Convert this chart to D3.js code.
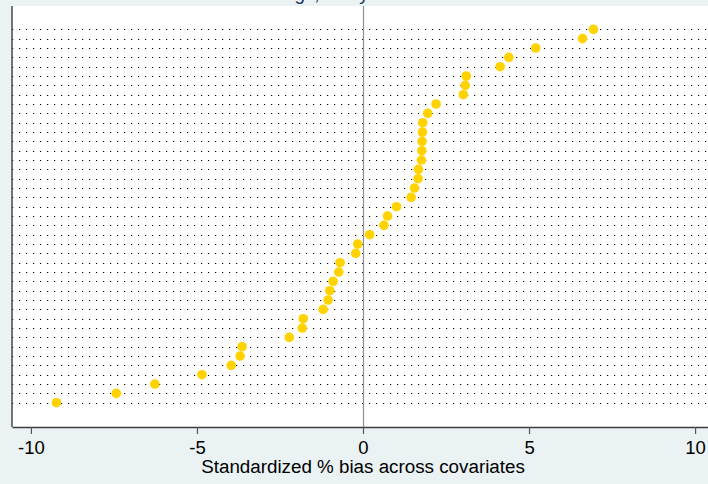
<!DOCTYPE html>
<html>
<head>
<meta charset="utf-8">
<script src="https://cdn.jsdelivr.net/npm/d3@7"></script>
<style>
  body { margin: 0; background: #eaf2f3; }
  svg { display: block; font-family: "Liberation Sans", Arial, sans-serif; }
</style>
</head>
<body>
<div id="chart"></div>
<script>
// Chart size
const width = 708;
const height = 484;

// Standardized % bias per covariate, sorted from largest to smallest (rows top to bottom)
const biasValues = [
  6.94, 6.61, 5.20, 4.39, 4.13, 3.11, 3.08, 3.02, 2.20, 1.95,
  1.80, 1.79, 1.78, 1.77, 1.76, 1.67, 1.66, 1.55, 1.45, 1.01,
  0.74, 0.63, 0.20, -0.16, -0.22, -0.69, -0.73, -0.90, -1.00, -1.05,
  -1.20, -1.80, -1.83, -2.22, -3.64, -3.70, -3.97, -4.85, -6.27, -7.43,
  -9.23
];
const rowIndex = biasValues.map((d, i) => i + 1);
const xTicks = [-10, -5, 0, 5, 10];
const xTitle = "Standardized % bias across covariates";
const topTitle = "Rankings, all by covariate";

const svg = d3.select("#chart")
  .append("svg")
  .attr("width", width)
  .attr("height", height);

// outer graph region
svg.append("rect")
  .attr("width", width)
  .attr("height", height)
  .attr("fill", "#eaf2f3");

// plot region (runs past the right edge of the window)
const plotLeft = 12, plotRight = 714, plotTop = 6, plotBottom = 427;

const x = d3.scaleLinear().domain([-10.57, 10.57]).range([plotLeft, plotRight]);
const y = d3.scaleLinear().domain([-1.5, 43.6]).range([plotTop, plotBottom]);

svg.append("rect")
  .attr("x", plotLeft)
  .attr("y", plotTop)
  .attr("width", plotRight - plotLeft)
  .attr("height", plotBottom - plotTop)
  .attr("fill", "#ffffff");

// title, mostly cut off by the top of the window
svg.append("text")
  .attr("x", 236)
  .attr("y", -0.5)
  .attr("fill", "#1c2f5c")
  .style("font-size", "18.8px")
  .text(topTitle);

// dotted row lines
svg.append("g")
  .selectAll("line")
  .data(rowIndex)
  .join("line")
  .attr("x1", plotLeft)
  .attr("x2", plotRight)
  .attr("y1", d => Math.round(y(d)) + 0.5)
  .attr("y2", d => Math.round(y(d)) + 0.5)
  .attr("stroke", "#000")
  .attr("stroke-width", 1.2)
  .attr("stroke-dasharray", "1.2,5.8");

// zero reference line
svg.append("line")
  .attr("x1", Math.round(x(0)) + 0.5)
  .attr("x2", Math.round(x(0)) + 0.5)
  .attr("y1", plotTop)
  .attr("y2", plotBottom)
  .attr("stroke", "#8f8f8f")
  .attr("stroke-width", 1.2);

// markers
svg.append("g")
  .selectAll("circle")
  .data(biasValues)
  .join("circle")
  .attr("cx", d => x(d))
  .attr("cy", (d, i) => y(rowIndex[i]))
  .attr("r", 4.8)
  .attr("fill", "#ffd200");

// x axis
const xAxis = svg.append("g")
  .attr("transform", `translate(0,${plotBottom})`)
  .call(d3.axisBottom(x).tickValues(xTicks).tickSize(7).tickPadding(6).tickSizeOuter(0));
xAxis.select(".domain").attr("stroke", "#3c3c3c").attr("stroke-width", 1.3);
xAxis.selectAll(".tick line").attr("stroke", "#555").attr("stroke-width", 1.2);
xAxis.selectAll(".tick text")
  .attr("fill", "#000")
  .style("font-size", "18.5px")
  .style("font-family", "'Liberation Sans', Arial, sans-serif")
  .text(d => d)
  .attr("dy", null)
  .attr("y", 27);

// left axis line
svg.append("line")
  .attr("x1", plotLeft)
  .attr("x2", plotLeft)
  .attr("y1", plotTop)
  .attr("y2", plotBottom)
  .attr("stroke", "#3c3c3c")
  .attr("stroke-width", 1.4);

// x axis title
svg.append("text")
  .attr("x", x(0))
  .attr("y", 473)
  .attr("text-anchor", "middle")
  .attr("fill", "#000")
  .style("font-size", "18.8px")
  .text(xTitle);
</script>
</body>
</html>
